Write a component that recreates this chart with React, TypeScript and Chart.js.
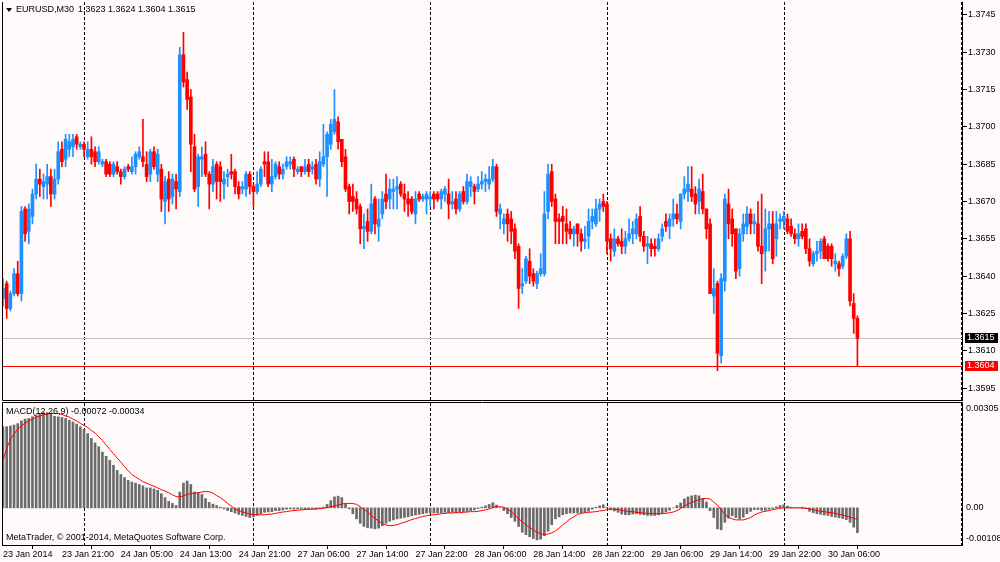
import React, { useEffect, useRef } from "react";
import { Chart, registerables } from "chart.js";

Chart.register(...registerables);

// ---------------- data ----------------
const SYMBOL = "EURUSD,M30";
const HEADER_VALUES = "1.3623 1.3624 1.3604 1.3615";
const MACD_TITLE = "MACD(12,26,9) -0.00072 -0.00034";
const WATERMARK = "MetaTrader, \u00A9 2001-2014, MetaQuotes Software Corp.";

const TIME_TICK_BARS = [0, 16, 32, 48, 64, 80, 96, 112, 128, 144, 160, 176, 192, 208, 224];
const TIME_LABELS = [
  "23 Jan 2014", "23 Jan 21:00", "24 Jan 05:00", "24 Jan 13:00", "24 Jan 21:00",
  "27 Jan 06:00", "27 Jan 14:00", "27 Jan 22:00", "28 Jan 06:00", "28 Jan 14:00",
  "28 Jan 22:00", "29 Jan 06:00", "29 Jan 14:00", "29 Jan 22:00", "30 Jan 06:00",
];
const DAY_SEPARATORS = [22, 68, 116, 164, 212, 260];
const PRICE_TICKS = [1.3745, 1.373, 1.3715, 1.37, 1.3685, 1.367, 1.3655, 1.364, 1.3625, 1.361, 1.3595];
const MACD_TICKS = [0.00305, 0, -0.00108];
const BID_PRICE = 1.3615;
const LEVEL_PRICE = 1.3604;

const X_MIN = -0.27;
const X_MAX = 260.4;
const PRICE_MIN = 1.35902;
const PRICE_MAX = 1.37502;
const MACD_MIN = -0.00108;
const MACD_MAX = 0.00305;

const OPEN = [
  1.3631, 1.3637, 1.3627, 1.3633, 1.3641, 1.3633, 1.3667, 1.3658, 1.3664, 1.3673,
  1.3679, 1.3676, 1.3677, 1.368, 1.3673, 1.3679, 1.3691, 1.3687, 1.3691, 1.3692,
  1.3696, 1.3692, 1.3693, 1.3688, 1.3691, 1.369, 1.3686, 1.3685, 1.3686, 1.3685,
  1.3681, 1.3684, 1.3682, 1.368, 1.3684, 1.3682, 1.3684, 1.3688, 1.3688, 1.3685,
  1.3681, 1.369, 1.3681, 1.3683, 1.367, 1.3679, 1.3672, 1.3678, 1.3674, 1.3729,
  1.3719, 1.3712, 1.3692, 1.3676, 1.3687, 1.3689, 1.3681, 1.3677, 1.3685, 1.3684,
  1.3677, 1.368, 1.3682, 1.3682, 1.3676, 1.3675, 1.3675, 1.3681, 1.3676, 1.3674,
  1.3677, 1.3686, 1.3686, 1.3677, 1.368, 1.3684, 1.3681, 1.3684, 1.3685, 1.3687,
  1.3682, 1.3684, 1.3682, 1.3685, 1.3683, 1.3685, 1.3679, 1.3685, 1.3688, 1.3693,
  1.3698, 1.3702, 1.3695, 1.3688, 1.3676, 1.3672, 1.3671, 1.3668, 1.3659, 1.3662,
  1.3658, 1.3671, 1.366, 1.3665, 1.3673, 1.3671, 1.3674, 1.3675, 1.3677, 1.3673,
  1.3671, 1.3671, 1.3665, 1.3673, 1.3671, 1.3671, 1.3671, 1.3673, 1.3673, 1.3671,
  1.3673, 1.3673, 1.3669, 1.3671, 1.3667, 1.3674, 1.367, 1.3676, 1.3676, 1.3675,
  1.3677, 1.3678, 1.3677, 1.3679, 1.3684, 1.3665, 1.3661, 1.3665, 1.3663, 1.3659,
  1.3652, 1.3636, 1.3638, 1.3646, 1.3641, 1.3637, 1.3641, 1.3641, 1.3666, 1.3682,
  1.3671, 1.3663, 1.3664, 1.3661, 1.3659, 1.3657, 1.3661, 1.3657, 1.3654, 1.3656,
  1.3662, 1.3661, 1.3667, 1.367, 1.3669, 1.3655, 1.365, 1.3655, 1.3654, 1.3652,
  1.3655, 1.3657, 1.3657, 1.3664, 1.3656, 1.3652, 1.3653, 1.3652, 1.3651, 1.3656,
  1.3662, 1.366, 1.3663, 1.3665, 1.3662, 1.3673, 1.3674, 1.3675, 1.3673, 1.367,
  1.3674, 1.3667, 1.3661, 1.3632, 1.3637, 1.3608, 1.3638, 1.3669, 1.3663, 1.3659,
  1.3643, 1.3657, 1.366, 1.3665, 1.3661, 1.3661, 1.3652, 1.365, 1.3659, 1.3661,
  1.3655, 1.3662, 1.3662, 1.3663, 1.366, 1.3657, 1.3655, 1.3658, 1.3659, 1.3651,
  1.3645, 1.3649, 1.365, 1.3655, 1.3652, 1.3652, 1.3645, 1.3645, 1.3644, 1.3648,
  1.3655, 1.3629, 1.3623,
];

const HIGH = [
  1.3639, 1.3638, 1.3634, 1.3643, 1.3646, 1.3668, 1.3668, 1.3669, 1.3675, 1.3685,
  1.3683, 1.3681, 1.3685, 1.3683, 1.3683, 1.3694, 1.3694, 1.3697, 1.3697, 1.3697,
  1.3697, 1.3694, 1.3694, 1.3694, 1.3696, 1.3692, 1.3692, 1.3687, 1.3687, 1.3686,
  1.3686, 1.3686, 1.3683, 1.3684, 1.3685, 1.3688, 1.369, 1.3692, 1.3703, 1.369,
  1.3691, 1.3692, 1.3691, 1.3685, 1.368, 1.3682, 1.3681, 1.3681, 1.3732, 1.3738,
  1.3722, 1.3715, 1.3697, 1.3689, 1.3692, 1.3694, 1.3682, 1.3687, 1.3686, 1.3686,
  1.3682, 1.3683, 1.3689, 1.3683, 1.3678, 1.3678, 1.3682, 1.3682, 1.3677, 1.3682,
  1.3684, 1.369, 1.369, 1.3687, 1.3686, 1.3686, 1.3685, 1.3688, 1.3688, 1.3688,
  1.3684, 1.3684, 1.3687, 1.3687, 1.3686, 1.3687, 1.369, 1.3701, 1.3698, 1.3703,
  1.3715, 1.3704, 1.3695, 1.3691, 1.3677, 1.3677, 1.3674, 1.3669, 1.3665, 1.3667,
  1.3677, 1.3672, 1.3671, 1.3674, 1.3681, 1.3679, 1.3679, 1.368, 1.3678, 1.3677,
  1.3674, 1.3672, 1.3674, 1.3674, 1.3673, 1.3674, 1.3674, 1.3674, 1.3674, 1.3675,
  1.3676, 1.3679, 1.3674, 1.3674, 1.3674, 1.3676, 1.3681, 1.368, 1.3677, 1.368,
  1.3682, 1.3681, 1.3684, 1.3687, 1.3685, 1.3669, 1.3665, 1.3667, 1.3666, 1.3661,
  1.3653, 1.3643, 1.3648, 1.3651, 1.3643, 1.3642, 1.3649, 1.3674, 1.3685, 1.3685,
  1.3673, 1.3665, 1.3668, 1.3667, 1.3662, 1.366, 1.3661, 1.3659, 1.366, 1.3667,
  1.3667, 1.3671, 1.3671, 1.3673, 1.367, 1.3657, 1.3659, 1.3656, 1.3659, 1.3658,
  1.3663, 1.3662, 1.3665, 1.3668, 1.3658, 1.3656, 1.3655, 1.3655, 1.3657, 1.3661,
  1.3665, 1.3665, 1.3671, 1.3669, 1.3673, 1.368, 1.3684, 1.3684, 1.3676, 1.3679,
  1.3681, 1.3667, 1.3663, 1.3643, 1.3638, 1.3641, 1.3673, 1.3675, 1.3667, 1.3659,
  1.3659, 1.3665, 1.3668, 1.3667, 1.3665, 1.367, 1.3673, 1.3667, 1.3666, 1.3666,
  1.3666, 1.3665, 1.3666, 1.3665, 1.3663, 1.3659, 1.3661, 1.3661, 1.3661, 1.3655,
  1.365, 1.3654, 1.3655, 1.3656, 1.3653, 1.3653, 1.3649, 1.3646, 1.3649, 1.3657,
  1.3658, 1.3633, 1.3624,
];

const LOW = [
  1.3628, 1.3623, 1.3626, 1.3632, 1.3632, 1.363, 1.3654, 1.3653, 1.3661, 1.3671,
  1.3672, 1.3671, 1.3671, 1.3668, 1.3671, 1.3677, 1.3684, 1.3684, 1.3688, 1.3688,
  1.3691, 1.3691, 1.3688, 1.3687, 1.3685, 1.3684, 1.3685, 1.3684, 1.368, 1.368,
  1.368, 1.3681, 1.3677, 1.3679, 1.3682, 1.3681, 1.3681, 1.3687, 1.3684, 1.3678,
  1.3678, 1.3683, 1.3678, 1.3666, 1.3661, 1.3666, 1.3669, 1.3667, 1.3672, 1.3716,
  1.3707, 1.3682, 1.3674, 1.3668, 1.368, 1.368, 1.3667, 1.3674, 1.3671, 1.367,
  1.3671, 1.3676, 1.3679, 1.3673, 1.3671, 1.3673, 1.3672, 1.3673, 1.3668, 1.3673,
  1.3676, 1.368, 1.3676, 1.3674, 1.3679, 1.3679, 1.3679, 1.3683, 1.3683, 1.368,
  1.3681, 1.368, 1.3681, 1.368, 1.3681, 1.3677, 1.3676, 1.3684, 1.3672, 1.3691,
  1.3697, 1.3691, 1.3684, 1.3674, 1.3665, 1.3666, 1.3665, 1.3653, 1.3651, 1.3654,
  1.3657, 1.3657, 1.3654, 1.3663, 1.3667, 1.3667, 1.3667, 1.3667, 1.3672, 1.3666,
  1.3664, 1.3665, 1.3661, 1.367, 1.367, 1.3665, 1.3668, 1.3667, 1.367, 1.3667,
  1.367, 1.3663, 1.3667, 1.3665, 1.3666, 1.3669, 1.3669, 1.3672, 1.3669, 1.3674,
  1.3675, 1.3674, 1.3675, 1.3678, 1.3664, 1.3659, 1.3657, 1.3654, 1.3653, 1.3647,
  1.3627, 1.3633, 1.3637, 1.3637, 1.3636, 1.3635, 1.364, 1.364, 1.3663, 1.3668,
  1.3653, 1.3653, 1.3653, 1.3653, 1.3655, 1.3652, 1.3652, 1.365, 1.3651, 1.3651,
  1.3659, 1.366, 1.3662, 1.3666, 1.3649, 1.3646, 1.3648, 1.3652, 1.3649, 1.3649,
  1.3654, 1.3653, 1.3655, 1.3654, 1.365, 1.3645, 1.3648, 1.3648, 1.365, 1.3654,
  1.3658, 1.3655, 1.366, 1.3661, 1.3659, 1.3671, 1.367, 1.367, 1.3665, 1.3665,
  1.3665, 1.3655, 1.3633, 1.3625, 1.3602, 1.3605, 1.3634, 1.3655, 1.3652, 1.3639,
  1.364, 1.3654, 1.3657, 1.3657, 1.3657, 1.365, 1.3637, 1.3642, 1.365, 1.3645,
  1.3648, 1.3659, 1.3659, 1.3657, 1.3656, 1.3653, 1.3652, 1.3655, 1.3649, 1.3644,
  1.3644, 1.3646, 1.3647, 1.3647, 1.3646, 1.3644, 1.3642, 1.364, 1.3643, 1.3647,
  1.3628, 1.3617, 1.3604,
];

const CLOSE = [
  1.3635, 1.3627, 1.3633, 1.3641, 1.3633, 1.3666, 1.3657, 1.3667, 1.3673, 1.3679,
  1.3677, 1.3678, 1.368, 1.3673, 1.3679, 1.369, 1.3686, 1.3695, 1.3694, 1.3695,
  1.3693, 1.3693, 1.3691, 1.3691, 1.3688, 1.3686, 1.369, 1.3686, 1.3681, 1.3681,
  1.3685, 1.3682, 1.368, 1.3683, 1.3683, 1.3684, 1.3689, 1.369, 1.3686, 1.368,
  1.369, 1.3684, 1.3689, 1.3671, 1.3678, 1.3671, 1.3679, 1.3675, 1.3729, 1.3718,
  1.3711, 1.3693, 1.3675, 1.3688, 1.3688, 1.3681, 1.3677, 1.3684, 1.3678, 1.3678,
  1.3679, 1.3681, 1.3681, 1.3676, 1.3673, 1.3676, 1.3681, 1.3676, 1.3674, 1.3677,
  1.3683, 1.3685, 1.3677, 1.368, 1.3685, 1.3681, 1.3683, 1.3686, 1.3686, 1.3683,
  1.3683, 1.3682, 1.3684, 1.3682, 1.3684, 1.3679, 1.3686, 1.3688, 1.3697, 1.3701,
  1.3703, 1.3694, 1.3686, 1.3675, 1.367, 1.367, 1.3667, 1.3659, 1.366, 1.3658,
  1.3669, 1.3661, 1.3663, 1.3671, 1.367, 1.3675, 1.3675, 1.3676, 1.3673, 1.3671,
  1.3669, 1.3666, 1.3671, 1.3671, 1.3672, 1.3673, 1.3672, 1.3671, 1.3671, 1.3674,
  1.3675, 1.3669, 1.367, 1.3667, 1.3673, 1.367, 1.3678, 1.3678, 1.3674, 1.3677,
  1.3678, 1.3679, 1.3679, 1.3684, 1.3666, 1.3667, 1.3663, 1.3661, 1.3658, 1.365,
  1.3635, 1.3637, 1.3647, 1.364, 1.3638, 1.3641, 1.3643, 1.3665, 1.3681, 1.367,
  1.3662, 1.3662, 1.3662, 1.3658, 1.3657, 1.3659, 1.3657, 1.3654, 1.3655, 1.3662,
  1.3664, 1.3667, 1.3669, 1.3668, 1.3654, 1.3651, 1.3655, 1.3653, 1.3652, 1.3655,
  1.3657, 1.3659, 1.3663, 1.3656, 1.3652, 1.3653, 1.3651, 1.3651, 1.3655, 1.3659,
  1.366, 1.3663, 1.3665, 1.3663, 1.3673, 1.3675, 1.3677, 1.3672, 1.3669, 1.3675,
  1.3667, 1.3659, 1.3633, 1.3635, 1.3609, 1.3639, 1.3671, 1.3661, 1.3657, 1.3642,
  1.3657, 1.3661, 1.3665, 1.3661, 1.3662, 1.3652, 1.3649, 1.3659, 1.3661, 1.3647,
  1.3661, 1.3663, 1.3664, 1.3658, 1.3657, 1.3655, 1.3657, 1.3656, 1.3651, 1.3646,
  1.3649, 1.365, 1.3654, 1.3647, 1.3647, 1.3647, 1.3646, 1.3643, 1.3648, 1.3655,
  1.363, 1.3623, 1.3615,
];

const MACD_MAIN = [
  0.00236, 0.00236, 0.00238, 0.00241, 0.00245, 0.00253, 0.00258, 0.0026, 0.00265, 0.0027,
  0.00275, 0.00277, 0.00277, 0.00273, 0.00266, 0.00265, 0.00263, 0.0026, 0.00255, 0.0025,
  0.00244, 0.00236, 0.00228, 0.00216, 0.00202, 0.00189, 0.00178, 0.00162, 0.0015, 0.00138,
  0.00124, 0.00109, 0.00097, 0.00088, 0.0008, 0.00075, 0.00072, 0.00068, 0.00064, 0.00058,
  0.00058, 0.00055, 0.00051, 0.00041, 0.0003, 0.00019, 0.00013, 0.00007, 0.00046, 0.00072,
  0.00078, 0.00068, 0.00046, 0.00043, 0.00039, 0.00027, 0.00016, 0.00011, 0.00007, 0.00002,
  -0.00003, -0.00008, -0.00011, -0.00015, -0.00019, -0.00022, -0.00025, -0.00028, -0.00026, -0.00022,
  -0.00017, -0.00013, -0.00012, -0.00011, -0.00008, -0.00008, -0.00006, -0.00004, -0.00003, -0.00004,
  -0.00003, -0.00003, -0.00004, -0.00004, -0.00003, -0.00004, -0.00003, 0.00002, 0.0001, 0.00021,
  0.00032, 0.00034, 0.0003, 0.00013, -0.00003, -0.00017, -0.00032, -0.00045, -0.00054, -0.00058,
  -0.00059, -0.00061, -0.00059, -0.00052, -0.00045, -0.00039, -0.00035, -0.00032, -0.0003, -0.00028,
  -0.00026, -0.00023, -0.00021, -0.00019, -0.00017, -0.00015, -0.00015, -0.00015, -0.00015, -0.00014,
  -0.00013, -0.00014, -0.00013, -0.00013, -0.00011, -0.00011, -0.0001, -0.00008, -0.00006, -0.00002,
  0.00002, 0.00006, 0.0001, 0.00015, 0.00008, 0.0, -0.00008, -0.00017, -0.00028, -0.00039,
  -0.00054, -0.00071, -0.00078, -0.00084, -0.00089, -0.00093, -0.00091, -0.00081, -0.00068, -0.00049,
  -0.00032, -0.00026, -0.0002, -0.00017, -0.00015, -0.00015, -0.00015, -0.00014, -0.00012, -0.0001,
  -0.00004, 0.00002, 0.00006, 0.00009, 0.00002, -0.00006, -0.00009, -0.00013, -0.00018, -0.0002,
  -0.0002, -0.00018, -0.00017, -0.00019, -0.0002, -0.00022, -0.00022, -0.00022, -0.0002, -0.00016,
  -0.00012, -0.00007, 0.0, 0.00007, 0.00014, 0.00026, 0.00032, 0.00035, 0.00037, 0.00035,
  0.00027, 0.00017, -0.00008, -0.00028, -0.00061, -0.00064, -0.00042, -0.0003, -0.00023, -0.00028,
  -0.00032, -0.00027, -0.00017, -0.0001, -0.00005, -0.00005, -0.00007, -0.00007, -0.00004, -0.00002,
  0.00003, 0.00007, 0.00009, 0.00005, 0.00002, 0.0, 0.0, 0.00002, -0.00002, -0.0001,
  -0.00014, -0.00017, -0.00019, -0.00021, -0.00022, -0.00025, -0.00027, -0.00029, -0.00031, -0.00034,
  -0.00042, -0.00056, -0.00072,
];

const MACD_SIGNAL = [
  0.00138, 0.00172, 0.00199, 0.00215, 0.00229, 0.00239, 0.00246, 0.00253, 0.00258, 0.00264,
  0.00267, 0.00271, 0.00273, 0.00275, 0.00275, 0.00274, 0.00272, 0.00267, 0.00264, 0.00258,
  0.00253, 0.00246, 0.0024, 0.00234, 0.00225, 0.00218, 0.00207, 0.00196, 0.00183, 0.0017,
  0.00158, 0.00145, 0.00133, 0.0012, 0.00108, 0.00097, 0.0009, 0.00083, 0.00076, 0.00072,
  0.00067, 0.00063, 0.00058, 0.00053, 0.00049, 0.00044, 0.00038, 0.00033, 0.00032, 0.00035,
  0.00039, 0.00041, 0.00043, 0.00044, 0.00046, 0.00048, 0.00047, 0.00043, 0.00036, 0.0003,
  0.00022, 0.00013, 0.00005, -0.00003, -0.00008, -0.00011, -0.00015, -0.00018, -0.0002, -0.0002,
  -0.0002, -0.0002, -0.00019, -0.00018, -0.00016, -0.00014, -0.00012, -0.00011, -0.00009, -0.00008,
  -0.00007, -0.00006, -0.00005, -0.00004, -0.00004, -0.00003, -0.00002, -0.00001, 0.00001, 0.00003,
  0.00005, 0.00009, 0.00011, 0.00013, 0.00013, 0.00013, 0.0001, 0.00003, -0.00004, -0.00012,
  -0.00022, -0.00031, -0.00038, -0.00045, -0.0005, -0.00052, -0.00051, -0.00049, -0.00045, -0.00042,
  -0.00038, -0.00034, -0.00031, -0.00028, -0.00025, -0.00023, -0.00021, -0.0002, -0.00019, -0.00017,
  -0.00016, -0.00015, -0.00015, -0.00014, -0.00014, -0.00013, -0.00012, -0.00011, -0.00011, -0.0001,
  -0.00008, -0.00006, -0.00003, 0.00001, 0.00004, 0.00003, 0.00002, -0.00004, -0.00011, -0.00021,
  -0.00032, -0.0004, -0.0005, -0.00057, -0.00064, -0.00071, -0.00075, -0.00078, -0.00076, -0.00073,
  -0.00067, -0.00059, -0.00049, -0.00041, -0.00032, -0.00026, -0.00019, -0.00016, -0.00014, -0.00013,
  -0.00012, -0.00011, -0.00009, -0.00008, -0.00005, -0.00003, -0.00004, -0.00005, -0.00007, -0.00009,
  -0.00011, -0.00011, -0.00013, -0.00014, -0.00015, -0.00016, -0.00017, -0.00017, -0.00017, -0.00017,
  -0.00016, -0.00014, -0.00012, -0.00008, -0.00002, 0.00005, 0.00011, 0.00016, 0.0002, 0.00024,
  0.00027, 0.00027, 0.00026, 0.00017, 0.00007, -0.00005, -0.00019, -0.00027, -0.00032, -0.00035,
  -0.00035, -0.00035, -0.00032, -0.00028, -0.00021, -0.00016, -0.00012, -0.0001, -0.00008, -0.00005,
  -0.00003, -0.00001, 0.0, 0.0, 0.0, 0.0, 0.0, -0.00001, -0.00001, -0.00003,
  -0.00005, -0.00008, -0.0001, -0.00011, -0.00013, -0.00014, -0.00016, -0.00019, -0.00021, -0.00024,
  -0.00027, -0.0003, -0.00034,
];

// ---------------- styling ----------------
const BG = "#FFFAFA";
const BULL = "#1E90FF";
const BEAR = "#FF0000";
const HIST_COLOR = "#6B6B6B";
const FONT_FAMILY = "'Liberation Sans', Arial, sans-serif";
const FONT = { family: FONT_FAMILY, size: 9 };
const CSS_FONT = `9px ${FONT_FAMILY}`;

const BAR_INDEX = OPEN.map((_, i) => i);
const candleColor = (ctx: any) => {
  const i = ctx.dataIndex;
  if (i === undefined) return BULL;
  return CLOSE[i] >= OPEN[i] ? BULL : BEAR;
};

function drawSeparators(chart: any) {
  const { ctx, chartArea: a, scales } = chart;
  ctx.save();
  ctx.strokeStyle = "#000";
  ctx.lineWidth = 1;
  ctx.setLineDash([3, 2]);
  ctx.beginPath();
  DAY_SEPARATORS.forEach((b) => {
    const px = Math.round(scales.x.getPixelForValue(b)) + 0.5;
    if (px >= a.left && px <= a.right) {
      ctx.moveTo(px, a.top);
      ctx.lineTo(px, a.bottom);
    }
  });
  ctx.stroke();
  ctx.restore();
}

const mainPlugin = {
  id: "mt4Main",
  beforeDatasetsDraw(chart: any) {
    const { ctx, chartArea: a, scales } = chart;
    drawSeparators(chart);
    ctx.save();
    ctx.lineWidth = 1;
    const yb = Math.round(scales.y.getPixelForValue(BID_PRICE)) + 0.5;
    ctx.strokeStyle = "#C0C0C0";
    ctx.beginPath();
    ctx.moveTo(a.left, yb);
    ctx.lineTo(a.right, yb);
    ctx.stroke();
    const yl = Math.round(scales.y.getPixelForValue(LEVEL_PRICE)) + 0.5;
    ctx.strokeStyle = "#FF0000";
    ctx.beginPath();
    ctx.moveTo(a.left, yl);
    ctx.lineTo(a.right, yl);
    ctx.stroke();
    ctx.restore();
  },
  afterDraw(chart: any) {
    const { ctx, chartArea: a, scales } = chart;
    ctx.save();
    ctx.strokeStyle = "#000";
    ctx.lineWidth = 1;
    ctx.beginPath();
    ctx.moveTo(a.left + 0.5, a.top);
    ctx.lineTo(a.left + 0.5, a.bottom + 0.5);
    ctx.lineTo(a.right, a.bottom + 0.5);
    ctx.stroke();
    // header
    ctx.fillStyle = "#000";
    ctx.beginPath();
    ctx.moveTo(6, 8);
    ctx.lineTo(12, 8);
    ctx.lineTo(9, 12);
    ctx.closePath();
    ctx.fill();
    ctx.font = CSS_FONT;
    ctx.textBaseline = "middle";
    ctx.textAlign = "left";
    ctx.fillText(SYMBOL, 16, 10);
    ctx.fillText(HEADER_VALUES, 78, 10);
    // price boxes
    const boxes: [number, string][] = [
      [BID_PRICE, "#000000"],
      [LEVEL_PRICE, "#FF0000"],
    ];
    boxes.forEach(([p, col]) => {
      const y = Math.round(scales.y.getPixelForValue(p));
      ctx.fillStyle = col;
      ctx.fillRect(a.right + 3, y - 5, 33, 10);
      ctx.fillStyle = "#FFFFFF";
      ctx.fillText(p.toFixed(4), a.right + 5, y);
    });
    ctx.restore();
  },
};

const macdPlugin = {
  id: "mt4Macd",
  beforeDatasetsDraw(chart: any) {
    drawSeparators(chart);
  },
  afterDraw(chart: any) {
    const { ctx, chartArea: a, scales } = chart;
    ctx.save();
    ctx.strokeStyle = "#000";
    ctx.lineWidth = 1;
    ctx.beginPath();
    ctx.moveTo(a.left + 0.5, a.bottom);
    ctx.lineTo(a.left + 0.5, a.top - 0.5);
    ctx.lineTo(a.right + 0.5, a.top - 0.5);
    ctx.lineTo(a.right + 0.5, a.bottom);
    ctx.stroke();
    ctx.fillStyle = "#000";
    ctx.font = CSS_FONT;
    ctx.textBaseline = "middle";
    ctx.textAlign = "left";
    ctx.fillText(MACD_TITLE, 6, a.top + 8.5);
    ctx.fillText(WATERMARK, 6, a.bottom - 7);
    MACD_TICKS.forEach((v) => {
      let y = scales.y.getPixelForValue(v);
      y = Math.min(Math.max(y, a.top + 6), a.bottom - 6);
      const txt = v === 0 ? "0.00" : v.toFixed(5);
      ctx.fillText(txt, a.right + 4, y);
    });
    ctx.restore();
  },
};

export default function App() {
  const mainRef = useRef<HTMLCanvasElement>(null);
  const macdRef = useRef<HTMLCanvasElement>(null);

  useEffect(() => {
    Chart.defaults.font.family = FONT_FAMILY;
    const main = new Chart(mainRef.current as HTMLCanvasElement, {
      type: "bar",
      data: {
        datasets: [
          {
            label: "wick",
            data: BAR_INDEX.map((i) => ({ x: i, y: [LOW[i], HIGH[i]] })) as any,
            backgroundColor: candleColor,
            barThickness: 1,
            grouped: false,
            borderWidth: 0,
          } as any,
          {
            label: "body",
            data: BAR_INDEX.map((i) => ({ x: i, y: [OPEN[i], CLOSE[i]] })) as any,
            backgroundColor: candleColor,
            barThickness: 3,
            grouped: false,
            borderWidth: 0,
            minBarLength: 1,
          } as any,
        ],
      },
      options: {
        animation: false,
        responsive: false,
        maintainAspectRatio: false,
        devicePixelRatio: 1,
        events: [],
        layout: { padding: { left: 2, top: 2, bottom: 2, right: 0 } },
        plugins: { legend: { display: false }, tooltip: { enabled: false } },
        scales: {
          x: { type: "linear", min: X_MIN, max: X_MAX, display: false, offset: false },
          y: {
            type: "linear",
            position: "right",
            min: PRICE_MIN,
            max: PRICE_MAX,
            afterBuildTicks: (s: any) => {
              s.ticks = PRICE_TICKS.map((v) => ({ value: v }));
            },
            afterFit: (s: any) => {
              s.width = 38;
              s.paddingTop = 0;
              s.paddingBottom = 0;
            },
            ticks: {
              callback: (v: any) => Number(v).toFixed(4),
              font: FONT,
              color: "#000",
              padding: 1,
              autoSkip: false,
              maxRotation: 0,
            },
            grid: { drawOnChartArea: false, drawTicks: true, tickLength: 5, color: "#000" },
            border: { display: true, color: "#000" },
          },
        },
      } as any,
      plugins: [mainPlugin],
    });

    const macd = new Chart(macdRef.current as HTMLCanvasElement, {
      type: "bar",
      data: {
        datasets: [
          {
            type: "line",
            label: "signal",
            data: BAR_INDEX.map((i) => ({ x: i, y: MACD_SIGNAL[i] })),
            borderColor: "#FF0000",
            borderWidth: 1,
            pointRadius: 0,
            tension: 0,
            order: 0,
          } as any,
          {
            type: "bar",
            label: "macd",
            data: BAR_INDEX.map((i) => ({ x: i, y: MACD_MAIN[i] })),
            backgroundColor: HIST_COLOR,
            barThickness: 2,
            borderWidth: 0,
            order: 1,
          } as any,
        ],
      },
      options: {
        animation: false,
        responsive: false,
        maintainAspectRatio: false,
        devicePixelRatio: 1,
        events: [],
        layout: { padding: { left: 2, top: 1, bottom: 0, right: 38 } },
        plugins: { legend: { display: false }, tooltip: { enabled: false } },
        scales: {
          x: {
            type: "linear",
            min: X_MIN,
            max: X_MAX,
            offset: false,
            position: "bottom",
            afterBuildTicks: (s: any) => {
              s.ticks = TIME_TICK_BARS.map((v) => ({ value: v }));
            },
            afterFit: (s: any) => {
              s.height = 17;
              s.paddingLeft = 0;
              s.paddingRight = 0;
            },
            ticks: {
              callback: (_v: any, idx: number) => TIME_LABELS[idx],
              align: "start",
              font: FONT,
              color: "#000",
              padding: 0,
              autoSkip: false,
              maxRotation: 0,
              minRotation: 0,
            },
            grid: { drawOnChartArea: false, drawTicks: true, tickLength: 4, color: "#000" },
            border: { display: true, color: "#000" },
          },
          y: { type: "linear", min: MACD_MIN, max: MACD_MAX, display: false },
        },
      } as any,
      plugins: [macdPlugin],
    });

    return () => {
      main.destroy();
      macd.destroy();
    };
  }, []);

  return (
    <div
      style={{
        position: "fixed",
        left: 0,
        top: 0,
        width: 1000,
        height: 562,
        background: BG,
        overflow: "hidden",
      }}
    >
      <canvas
        ref={mainRef}
        width={1000}
        height={402}
        style={{ position: "absolute", left: 0, top: 0, width: 1000, height: 402 }}
      />
      <canvas
        ref={macdRef}
        width={1000}
        height={160}
        style={{ position: "absolute", left: 0, top: 402, width: 1000, height: 160 }}
      />
    </div>
  );
}
